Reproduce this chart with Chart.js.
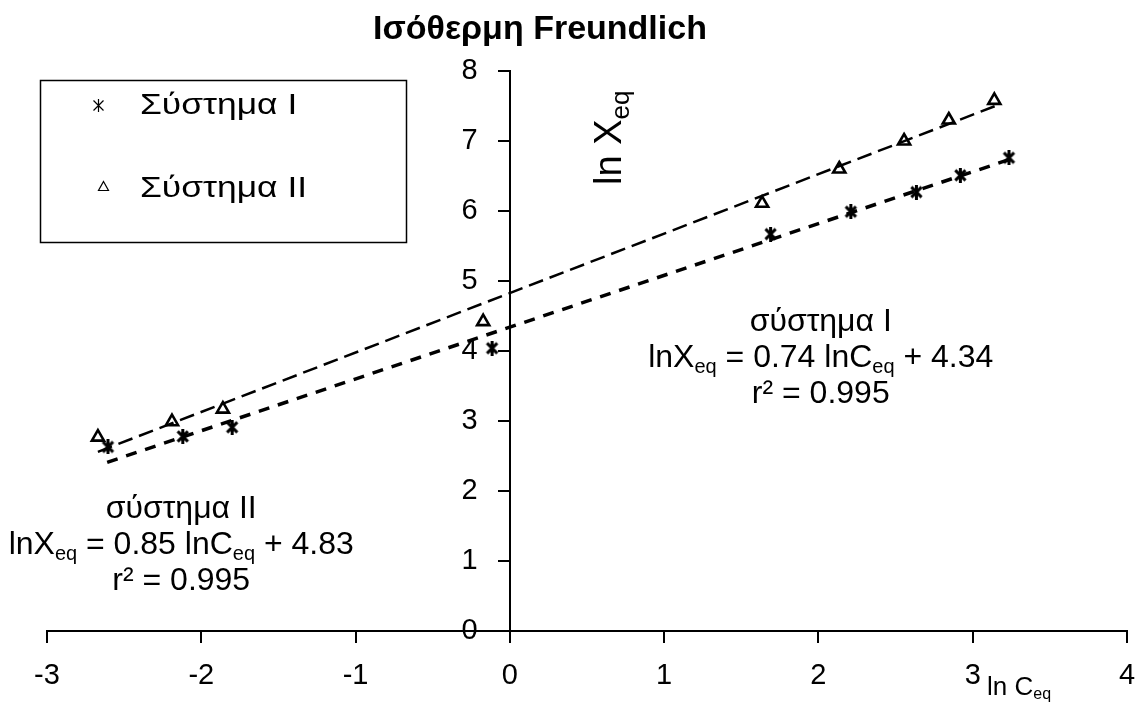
<!DOCTYPE html>
<html>
<head>
<meta charset="utf-8">
<script src="https://cdn.jsdelivr.net/npm/chart.js@4/dist/chart.umd.min.js"></script>
<style>
  html, body { margin: 0; padding: 0; background: #fff; }
  #wrap { width: 1142px; height: 706px; position: relative; }
</style>
</head>
<body>
<div id="wrap"><canvas id="myChart"></canvas></div>
<script>
// values (ln Ceq, ln Xeq)
var seriesNames = ['Σύστημα I', 'Σύστημα II'];
var lnC_I  = [-2.605, -2.12, -1.80, -0.115, 1.69, 2.21, 2.635, 2.92, 3.235];
var lnX_I  = [2.63, 2.78, 2.91, 4.04, 5.67, 5.99, 6.27, 6.51, 6.76];
var lnC_II = [-2.67, -2.19, -1.86, -0.173, 1.635, 2.135, 2.555, 2.845, 3.14];
var lnX_II = [2.77, 2.99, 3.17, 4.42, 6.11, 6.60, 7.00, 7.30, 7.58];

// trend line end points as drawn
var trendC_I  = [-2.61, 3.27];
var trendX_I  = [2.41, 6.76];
var trendC_II = [-2.67, 3.17];
var trendX_II = [2.56, 7.52];

var xTicks = [-3, -2, -1, 0, 1, 2, 3, 4];
var yTicks = [0, 1, 2, 3, 4, 5, 6, 7, 8];

var fitLabels = [
    { name: 'σύστημα I',  slope: '0.74', icpt: '4.34', r2: '0.995' },
    { name: 'σύστημα II', slope: '0.85', icpt: '4.83', r2: '0.995' }
];

function toPoints(xs, ys) {
    return xs.map(function (v, i) { return { x: v, y: ys[i] }; });
}

var FONT = '"Liberation Sans", Arial, sans-serif';

// asterisk marker like the Excel "star"
function makeStar(size, lw) {
    var c = document.createElement('canvas');
    c.width = size; c.height = size;
    var g = c.getContext('2d');
    var m = lw * 0.8, s = size - lw * 0.8;
    g.strokeStyle = '#000';
    g.lineWidth = lw;
    g.lineCap = 'butt';
    g.beginPath();
    g.moveTo(m, m); g.lineTo(s, s);
    g.moveTo(s, m); g.lineTo(m, s);
    g.moveTo(size / 2, 0); g.lineTo(size / 2, size);
    g.stroke();
    return c;
}
var starBig = makeStar(15, 3);

// text with "eq" subscripts: parts = [[text, isSub], ...]
function richWidth(ctx, parts, size, subSize) {
    var w = 0;
    parts.forEach(function (p) {
        ctx.font = (p[1] ? subSize : size) + 'px ' + FONT;
        w += ctx.measureText(p[0]).width;
    });
    return w;
}
function drawRich(ctx, parts, x, y, size, subSize, subDrop) {
    ctx.textAlign = 'left';
    ctx.textBaseline = 'alphabetic';
    parts.forEach(function (p) {
        ctx.font = (p[1] ? subSize : size) + 'px ' + FONT;
        ctx.fillText(p[0], x, p[1] ? y + subDrop : y);
        x += ctx.measureText(p[0]).width;
    });
}

var textPlugin = {
    id: 'freundlichText',
    afterDraw: function (chart) {
        var ctx = chart.ctx;
        var xs = chart.scales.x, ys = chart.scales.y;
        ctx.save();
        ctx.fillStyle = '#000';

        // title
        ctx.font = 'bold 34px ' + FONT;
        ctx.textAlign = 'center';
        ctx.textBaseline = 'alphabetic';
        ctx.fillText('Ισόθερμη Freundlich', 540, 39);

        // axis titles
        drawRich(ctx, [['ln C', 0], ['eq', 1]], 987, 695, 26, 16, 4);
        ctx.save();
        ctx.translate(621, 185);
        ctx.rotate(-Math.PI / 2);
        drawRich(ctx, [['ln X', 0], ['eq', 1]], 0, 0, 38, 26, 8);
        ctx.restore();

        // fit equations, anchored in data units
        var anchors = [{ x: 2.015, y: 4.29 }, { x: -2.13, y: 1.61 }];
        fitLabels.forEach(function (f, i) {
            var cx = xs.getPixelForValue(anchors[i].x);
            var by = ys.getPixelForValue(anchors[i].y);
            var lines = [
                [[f.name, 0]],
                [['lnX', 0], ['eq', 1], [' = ' + f.slope + ' lnC', 0], ['eq', 1], [' + ' + f.icpt, 0]],
                [['r² = ' + f.r2, 0]]
            ];
            lines.forEach(function (parts, k) {
                var w = richWidth(ctx, parts, 32, 20);
                drawRich(ctx, parts, cx - w / 2, by + k * 36, 32, 20, 6);
            });
        });

        // legend box
        ctx.lineWidth = 1.5;
        ctx.strokeStyle = '#000';
        ctx.strokeRect(40.5, 80.5, 366, 162);
        // legend markers
        ctx.lineWidth = 1.2;
        ctx.beginPath();
        ctx.moveTo(93.5, 100.5); ctx.lineTo(103.5, 110.5);
        ctx.moveTo(103.5, 100.5); ctx.lineTo(93.5, 110.5);
        ctx.moveTo(98.5, 99); ctx.lineTo(98.5, 112);
        ctx.stroke();
        ctx.beginPath();
        ctx.moveTo(103.5, 181.5); ctx.lineTo(108.5, 190.5); ctx.lineTo(98.5, 190.5); ctx.closePath();
        ctx.stroke();
        // legend labels
        ctx.font = '29px ' + FONT;
        ctx.textAlign = 'left';
        [114, 197].forEach(function (base, i) {
            ctx.save();
            ctx.translate(140, base);
            ctx.scale(1.22, 1);
            ctx.fillText(chart.data.datasets[i].label, 0, 0);
            ctx.restore();
        });
        ctx.restore();
    }
};

document.addEventListener('DOMContentLoaded', function () {
    var ctx = document.getElementById('myChart').getContext('2d');

    var data = {
        datasets: [{
            label: seriesNames[0],
            data: toPoints(lnC_I, lnX_I),
            pointStyle: starBig,
            pointRadius: 7,
            pointHoverRadius: 7,
            borderColor: '#000',
            backgroundColor: '#000',
            showLine: false,
            order: 1
        }, {
            label: seriesNames[1],
            data: toPoints(lnC_II, lnX_II),
            pointStyle: 'triangle',
            pointRadius: 7,
            pointHoverRadius: 7,
            pointBorderWidth: 2.6,
            borderColor: '#000',
            backgroundColor: 'rgba(0,0,0,0)',
            showLine: false,
            order: 1
        }, {
            label: 'trend I',
            data: toPoints(trendC_I, trendX_I),
            showLine: true,
            borderColor: '#000',
            borderWidth: 3.5,
            borderDash: [11, 9],
            pointRadius: 0,
            fill: false,
            order: 2
        }, {
            label: 'trend II',
            data: toPoints(trendC_II, trendX_II),
            showLine: true,
            borderColor: '#000',
            borderWidth: 2.5,
            borderDash: [15, 7],
            pointRadius: 0,
            fill: false,
            order: 2
        }]
    };

    var axisGrid = { drawOnChartArea: false, drawTicks: true, tickLength: 11, color: '#000', lineWidth: 2 };
    var axisBorder = { display: true, color: '#000', width: 2 };

    var options = {
        responsive: true,
        maintainAspectRatio: false,
        animation: false,
        events: [],
        layout: { padding: { left: 47, right: 15, top: 71, bottom: 75 } },
        plugins: {
            legend: { display: false },
            title: { display: false },
            tooltip: { enabled: false }
        },
        scales: {
            x: {
                type: 'linear',
                position: { y: 0 },
                min: xTicks[0],
                max: xTicks[xTicks.length - 1],
                afterBuildTicks: function (s) { s.ticks = xTicks.map(function (v) { return { value: v }; }); },
                // big line height pushes the labels down below the tick marks
                ticks: { color: '#000', font: { family: FONT, size: 29, lineHeight: 2.1 }, padding: 4, maxRotation: 0 },
                grid: axisGrid,
                border: axisBorder
            },
            y: {
                type: 'linear',
                position: { x: 0 },
                min: yTicks[0],
                max: yTicks[yTicks.length - 1],
                afterBuildTicks: function (s) { s.ticks = yTicks.map(function (v) { return { value: v }; }); },
                // centred axes draw labels flush on the line, trailing spaces move them left
                ticks: {
                    color: '#000', font: { family: FONT, size: 29 }, padding: 0,
                    callback: function (v) { return v + '    '; }
                },
                grid: axisGrid,
                border: axisBorder
            }
        }
    };

    new Chart(ctx, {
        type: 'scatter',
        data: data,
        options: options,
        plugins: [textPlugin]
    });
});
</script>
</body>
</html>
